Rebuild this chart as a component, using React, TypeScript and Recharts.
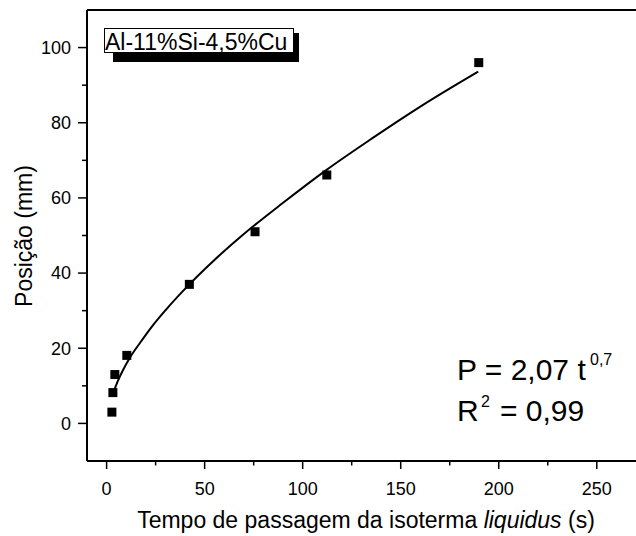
import React from "react";
import {
  ScatterChart,
  Scatter,
  XAxis,
  YAxis,
  ReferenceLine,
} from "recharts";

// measured points (t in s, P in mm)
const timeS = [2.7, 3.2, 4.2, 10.3, 42.2, 75.7, 112.3, 189.8];
const positionMm = [3.0, 8.2, 13.0, 18.1, 37.0, 51.0, 66.1, 96.0];

// fitted curve
const fitTime = [4.1, 6, 8, 12, 17, 23, 30, 42.2, 55, 70, 90, 112, 135, 160, 189.5];
const fitPos = [9.2, 11.6, 13.8, 17.6, 21.4, 25.7, 30.1, 37.0, 43.5, 50.4, 58.7, 67.4, 75.7, 84.3, 93.6];

const xTicks = [0, 25, 50, 75, 100, 125, 150, 175, 200, 225, 250];
const xMajor = [0, 50, 100, 150, 200, 250];
const yTicks = [0, 10, 20, 30, 40, 50, 60, 70, 80, 90, 100];
const yMajor = [0, 20, 40, 60, 80, 100];

const FONT = "Arial, 'Liberation Sans', sans-serif";

const points = timeS.map((t, i) => ({ x: t, y: positionMm[i] }));
const fit = fitTime.map((t, i) => ({ x: t, y: fitPos[i] }));

const X_TICK_SIZE = 8;
const X_TICK_MARGIN = 13;
const Y_TICK_SIZE = 9;
const Y_TICK_MARGIN = 7;

const XTick = (props: any) => {
  const { x, y, payload } = props;
  const axisY = y - X_TICK_SIZE - X_TICK_MARGIN;
  const major = xMajor.includes(payload.value);
  return (
    <g>
      <line x1={x} x2={x} y1={axisY} y2={axisY + (major ? 8 : 4.5)} stroke="#000" strokeWidth={1.5} />
      {major && (
        <text x={x} y={y} dy="0.71em" textAnchor="middle" fontSize={18} fontFamily={FONT} fill="#000">
          {payload.value}
        </text>
      )}
    </g>
  );
};

const YTick = (props: any) => {
  const { x, y, payload } = props;
  const axisX = x + Y_TICK_SIZE + Y_TICK_MARGIN;
  const major = yMajor.includes(payload.value);
  return (
    <g>
      <line x1={axisX} x2={axisX - (major ? 9 : 5)} y1={y} y2={y} stroke="#000" strokeWidth={1.5} />
      {major && (
        <text x={x} y={y} dy="0.355em" textAnchor="end" fontSize={18} fontFamily={FONT} fill="#000">
          {payload.value}
        </text>
      )}
    </g>
  );
};

const Square = (props: any) => (
  <rect x={props.cx - 4.5} y={props.cy - 4.5} width={9} height={9} fill="#000" />
);

const NoDot = () => <g />;

export default function App() {
  return (
    <div style={{ position: "absolute", left: 0, top: 0, width: 636, height: 536, background: "#fff" }}>
      <ScatterChart width={636} height={536} margin={{ top: 10, right: 0, left: 0, bottom: 0 }}>
        <XAxis
          type="number"
          dataKey="x"
          domain={[-10, 270]}
          ticks={xTicks}
          interval={0}
          height={75}
          tickSize={X_TICK_SIZE}
          tickMargin={X_TICK_MARGIN}
          tickLine={false}
          tick={XTick}
          axisLine={{ stroke: "#000", strokeWidth: 2 }}
          allowDataOverflow
        />
        <YAxis
          type="number"
          dataKey="y"
          domain={[-10, 110]}
          ticks={yTicks}
          interval={0}
          width={87}
          tickSize={Y_TICK_SIZE}
          tickMargin={Y_TICK_MARGIN}
          tickLine={false}
          tick={YTick}
          axisLine={{ stroke: "#000", strokeWidth: 2 }}
          allowDataOverflow
        />
        <ReferenceLine y={110} stroke="#000" strokeWidth={2} />
        <Scatter
          data={fit}
          line={{ stroke: "#000", strokeWidth: 2 }}
          lineType="joint"
          lineJointType="monotoneX"
          shape={NoDot}
          isAnimationActive={false}
        />
        <Scatter data={points} shape={Square} isAnimationActive={false} />
      </ScatterChart>
      <svg
        width={636}
        height={536}
        style={{ position: "absolute", left: 0, top: 0, pointerEvents: "none" }}
        fontFamily={FONT}
      >
        {/* legend box with shadow */}
        <rect x={113} y={33} width={186} height={29} fill="#000" />
        <rect x={104.5} y={28.5} width={189} height={24} fill="#fff" stroke="#000" strokeWidth={1} />
        <text x={105} y={50} fontSize={23} fill="#000">
          Al-11%Si-4,5%Cu
        </text>

        {/* fit equation */}
        <text x={457} y={380} fontSize={30} fill="#000">P = 2,07 t</text>
        <text x={590} y={365} fontSize={16} fill="#000">0,7</text>
        <text x={457} y={421} fontSize={30} fill="#000">R</text>
        <text x={481} y={407} fontSize={16} fill="#000">2</text>
        <text x={500} y={421} fontSize={30} fill="#000">= 0,99</text>

        {/* axis titles */}
        <text x={366} y={528} fontSize={23} textAnchor="middle" fill="#000">
          Tempo de passagem da isoterma <tspan fontStyle="italic">liquidus</tspan> (s)
        </text>
        <text
          x={32}
          y={236}
          fontSize={23}
          textAnchor="middle"
          fill="#000"
          transform="rotate(-90 32 236)"
        >
          Posição (mm)
        </text>
      </svg>
    </div>
  );
}
